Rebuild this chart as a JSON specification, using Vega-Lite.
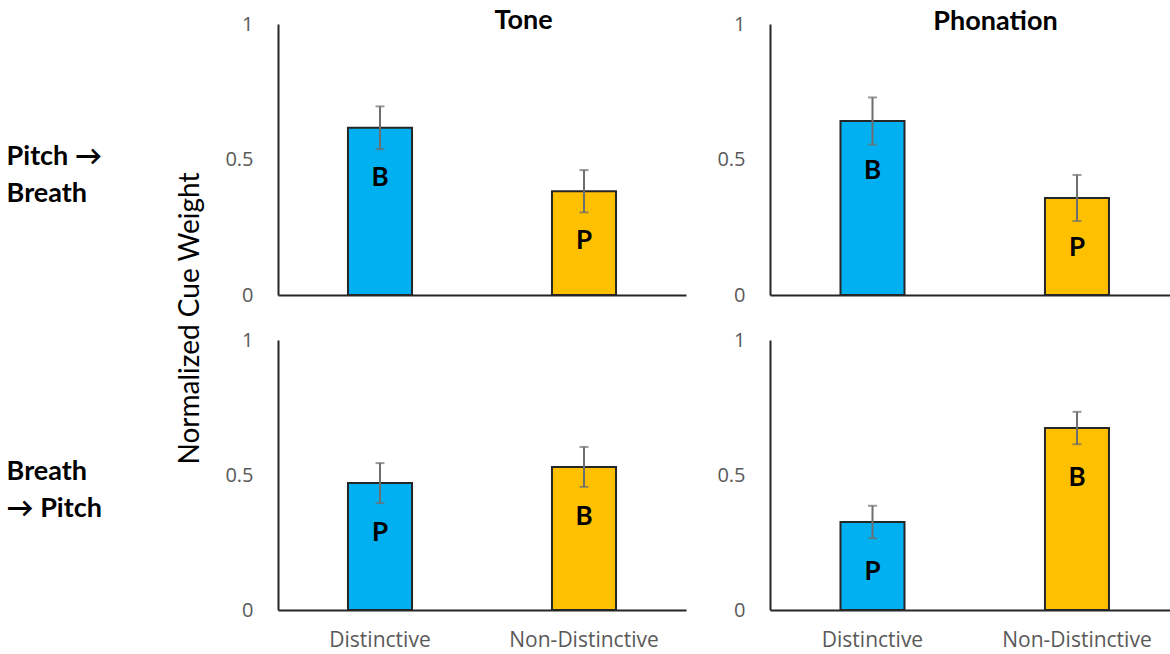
{
  "$schema": "https://vega.github.io/schema/vega-lite/v6.json",
  "background": "white",
  "padding": {"left": 6, "top": 6, "right": 0, "bottom": 0},
  "data": {
    "values": [
      {"direction": "Pitch → Breath", "dimension": "Tone", "condition": "Distinctive", "cue": "B", "value": 0.617, "err": 0.079},
      {"direction": "Pitch → Breath", "dimension": "Tone", "condition": "Non-Distinctive", "cue": "P", "value": 0.383, "err": 0.078},
      {"direction": "Pitch → Breath", "dimension": "Phonation", "condition": "Distinctive", "cue": "B", "value": 0.642, "err": 0.087},
      {"direction": "Pitch → Breath", "dimension": "Phonation", "condition": "Non-Distinctive", "cue": "P", "value": 0.358, "err": 0.085},
      {"direction": "Breath → Pitch", "dimension": "Tone", "condition": "Distinctive", "cue": "P", "value": 0.470, "err": 0.074},
      {"direction": "Breath → Pitch", "dimension": "Tone", "condition": "Non-Distinctive", "cue": "B", "value": 0.530, "err": 0.074},
      {"direction": "Breath → Pitch", "dimension": "Phonation", "condition": "Distinctive", "cue": "P", "value": 0.326, "err": 0.060},
      {"direction": "Breath → Pitch", "dimension": "Phonation", "condition": "Non-Distinctive", "cue": "B", "value": 0.674, "err": 0.060}
    ]
  },
  "columns": 2,
  "bounds": "flush",
  "spacing": {"row": 45, "column": 84},
  "concat": [
    {
      "width": 408,
      "height": 271,
      "title": {"text": ["Pitch →", "Breath"], "orient": "left", "anchor": "middle", "frame": "group", "angle": 0, "align": "left", "baseline": "middle", "offset": 75, "dy": -3, "font": "Lato", "fontSize": 27, "fontWeight": "bold", "color": "#000000", "lineHeight": 37},
      "transform": [{"filter": "datum.direction === 'Pitch → Breath' && datum.dimension === 'Tone'"}],
      "encoding": {
        "x": {"field": "condition", "type": "nominal", "sort": ["Distinctive", "Non-Distinctive"], "scale": {"paddingInner": 0.686, "paddingOuter": 0.343}, "axis": {"orient": "bottom", "title": null, "labels": false}},
        "y": {"field": "value", "type": "quantitative", "scale": {"domain": [0, 1]}, "axis": {"values": [0, 0.5, 1], "format": "~g", "title": "Normalized Cue Weight", "titleFont": "Lato", "titleFontSize": 28, "titleFontWeight": "normal", "titleColor": "#000000", "titlePadding": 20, "titleY": 294}}
      },
      "layer": [
        {"mark": {"type": "bar", "stroke": "#262626", "strokeWidth": 2}, "encoding": {"color": {"field": "condition", "type": "nominal", "scale": {"domain": ["Distinctive", "Non-Distinctive"], "range": ["#00B0F0", "#FFC000"]}, "legend": null}}},
        {"mark": {"type": "errorbar", "ticks": true, "size": 9, "thickness": 2, "color": "#6e6e6e"}, "encoding": {"x": {"field": "condition", "type": "nominal", "sort": ["Distinctive", "Non-Distinctive"], "axis": null}, "yError": {"field": "err"}}},
        {"mark": {"type": "text", "dy": 50, "baseline": "middle", "font": "Lato", "fontSize": 26, "fontWeight": "bold", "color": "#000000"}, "encoding": {"text": {"field": "cue"}, "x": {"field": "condition", "type": "nominal", "sort": ["Distinctive", "Non-Distinctive"], "axis": {"orient": "top", "domain": false, "labels": false, "title": "Tone", "titleFont": "Lato", "titleFontSize": 27, "titleFontWeight": "bold", "titleColor": "#000000", "titleX": 245, "titleY": 4, "titleBaseline": "alphabetic", "titleAlign": "center", "titleAngle": 0}}}}
      ],
      "resolve": {"axis": {"x": "independent"}}
    },
    {
      "width": 400,
      "height": 271,
      "transform": [{"filter": "datum.direction === 'Pitch → Breath' && datum.dimension === 'Phonation'"}],
      "encoding": {
        "x": {"field": "condition", "type": "nominal", "sort": ["Distinctive", "Non-Distinctive"], "scale": {"paddingInner": 0.687, "paddingOuter": 0.3216, "align": 0.536}, "axis": {"orient": "bottom", "title": null, "labels": false}},
        "y": {"field": "value", "type": "quantitative", "scale": {"domain": [0, 1]}, "axis": {"values": [0, 0.5, 1], "format": "~g", "title": null}}
      },
      "layer": [
        {"mark": {"type": "bar", "stroke": "#262626", "strokeWidth": 2}, "encoding": {"color": {"field": "condition", "type": "nominal", "scale": {"domain": ["Distinctive", "Non-Distinctive"], "range": ["#00B0F0", "#FFC000"]}, "legend": null}}},
        {"mark": {"type": "errorbar", "ticks": true, "size": 9, "thickness": 2, "color": "#6e6e6e"}, "encoding": {"x": {"field": "condition", "type": "nominal", "sort": ["Distinctive", "Non-Distinctive"], "axis": null}, "yError": {"field": "err"}}},
        {"mark": {"type": "text", "dy": 50, "baseline": "middle", "font": "Lato", "fontSize": 26, "fontWeight": "bold", "color": "#000000"}, "encoding": {"text": {"field": "cue"}, "x": {"field": "condition", "type": "nominal", "sort": ["Distinctive", "Non-Distinctive"], "axis": {"orient": "top", "domain": false, "labels": false, "title": "Phonation", "titleFont": "Lato", "titleFontSize": 27, "titleFontWeight": "bold", "titleColor": "#000000", "titleX": 225, "titleY": 5, "titleBaseline": "alphabetic", "titleAlign": "center", "titleAngle": 0}}}}
      ],
      "resolve": {"axis": {"x": "independent"}}
    },
    {
      "width": 408,
      "height": 270,
      "title": {"text": ["Breath", "→ Pitch"], "orient": "left", "anchor": "middle", "frame": "group", "angle": 0, "align": "left", "baseline": "middle", "offset": 123, "dy": -3, "font": "Lato", "fontSize": 27, "fontWeight": "bold", "color": "#000000", "lineHeight": 37},
      "transform": [{"filter": "datum.direction === 'Breath → Pitch' && datum.dimension === 'Tone'"}],
      "encoding": {
        "x": {"field": "condition", "type": "nominal", "sort": ["Distinctive", "Non-Distinctive"], "scale": {"paddingInner": 0.686, "paddingOuter": 0.343}, "axis": {"orient": "bottom", "title": null, "labelAngle": 0}},
        "y": {"field": "value", "type": "quantitative", "scale": {"domain": [0, 1]}, "axis": {"values": [0, 0.5, 1], "format": "~g", "title": null}}
      },
      "layer": [
        {"mark": {"type": "bar", "stroke": "#262626", "strokeWidth": 2}, "encoding": {"color": {"field": "condition", "type": "nominal", "scale": {"domain": ["Distinctive", "Non-Distinctive"], "range": ["#00B0F0", "#FFC000"]}, "legend": null}}},
        {"mark": {"type": "errorbar", "ticks": true, "size": 9, "thickness": 2, "color": "#6e6e6e"}, "encoding": {"yError": {"field": "err"}}},
        {"mark": {"type": "text", "dy": 50, "baseline": "middle", "font": "Lato", "fontSize": 26, "fontWeight": "bold", "color": "#000000"}, "encoding": {"text": {"field": "cue"}}}
      ]
    },
    {
      "width": 400,
      "height": 270,
      "transform": [{"filter": "datum.direction === 'Breath → Pitch' && datum.dimension === 'Phonation'"}],
      "encoding": {
        "x": {"field": "condition", "type": "nominal", "sort": ["Distinctive", "Non-Distinctive"], "scale": {"paddingInner": 0.687, "paddingOuter": 0.3216, "align": 0.536}, "axis": {"orient": "bottom", "title": null, "labelAngle": 0}},
        "y": {"field": "value", "type": "quantitative", "scale": {"domain": [0, 1]}, "axis": {"values": [0, 0.5, 1], "format": "~g", "title": null}}
      },
      "layer": [
        {"mark": {"type": "bar", "stroke": "#262626", "strokeWidth": 2}, "encoding": {"color": {"field": "condition", "type": "nominal", "scale": {"domain": ["Distinctive", "Non-Distinctive"], "range": ["#00B0F0", "#FFC000"]}, "legend": null}}},
        {"mark": {"type": "errorbar", "ticks": true, "size": 9, "thickness": 2, "color": "#6e6e6e"}, "encoding": {"yError": {"field": "err"}}},
        {"mark": {"type": "text", "dy": 50, "baseline": "middle", "font": "Lato", "fontSize": 26, "fontWeight": "bold", "color": "#000000"}, "encoding": {"text": {"field": "cue"}}}
      ]
    }
  ],
  "config": {
    "view": {"stroke": null},
    "font": "Open Sans",
    "axis": {
      "labelFont": "Open Sans",
      "labelColor": "#595959",
      "domainColor": "#262626",
      "domainWidth": 2,
      "ticks": false,
      "tickSize": 0,
      "grid": false
    },
    "axisX": {"labelFontSize": 21, "labelPadding": 19},
    "axisY": {"labelFontSize": 20, "labelPadding": 25}
  }
}
